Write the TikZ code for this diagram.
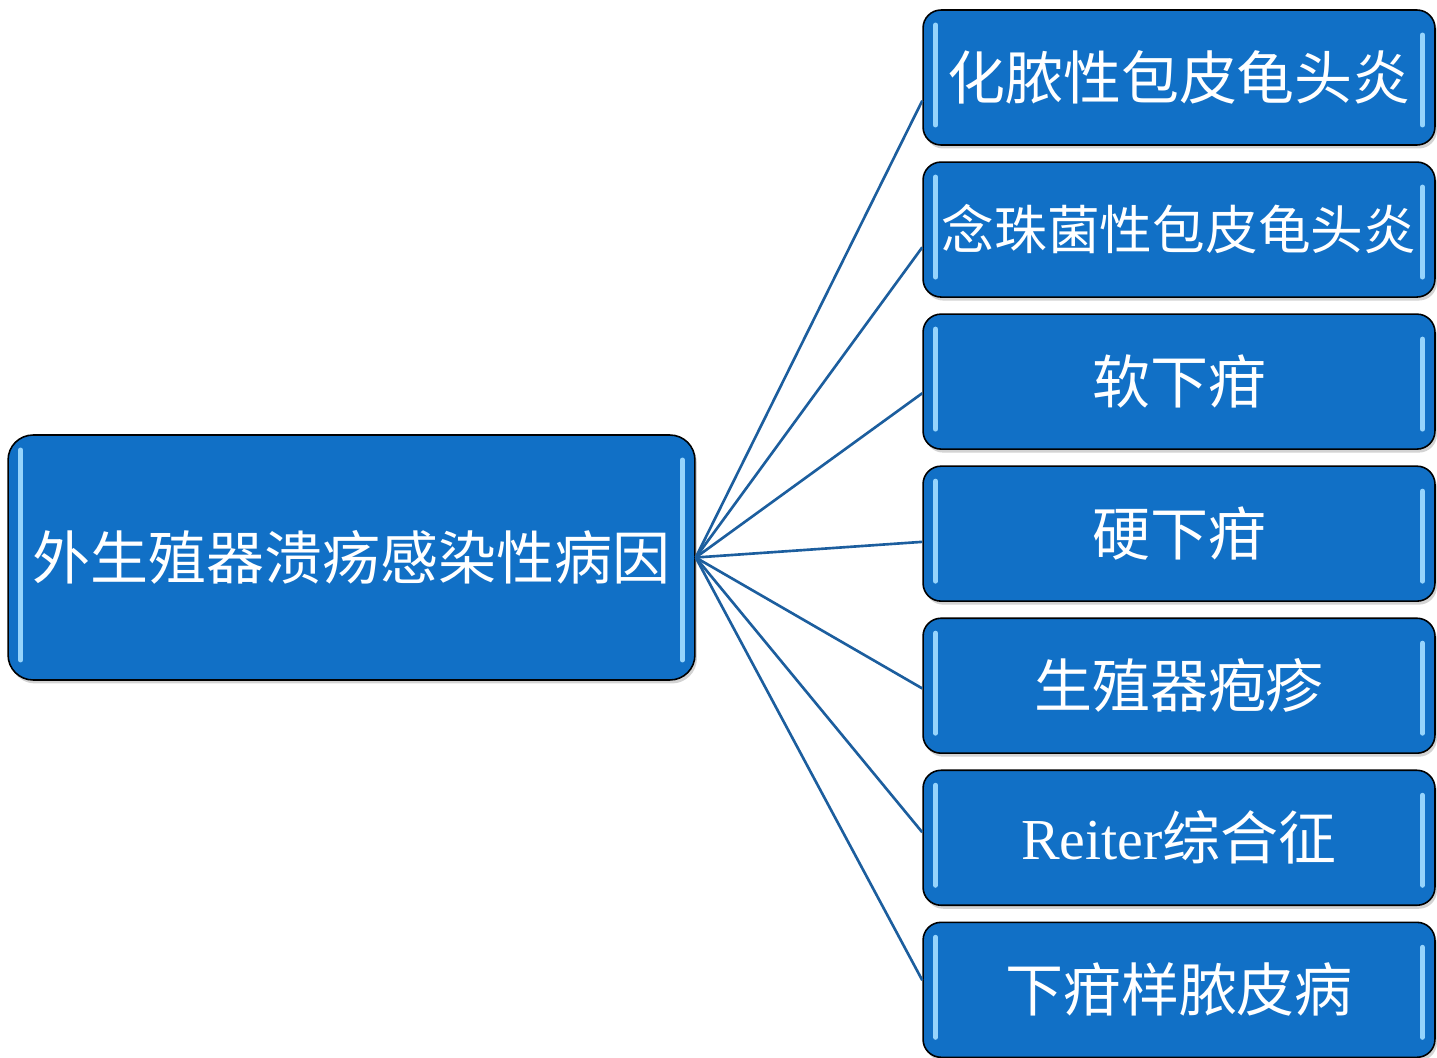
\documentclass[tikz,border=0pt]{standalone}
\usepackage{fontspec}
\setmainfont{Liberation Serif}
\newfontfamily\cjk{Noto Sans CJK SC}
\usetikzlibrary{positioning,calc,shadows}
\definecolor{boxblue}{RGB}{17,112,198}
\definecolor{linkblue}{RGB}{28,94,158}
\definecolor{glint}{RGB}{150,212,252}

\begin{document}
\begin{tikzpicture}[
    x=0.02cm, y=-0.02cm,
    node distance=0.31cm,
    hilite/.style={glint, line width=0.1cm, line cap=round},
    glossy/.style={rectangle, draw=black, line width=0.9pt, fill=boxblue, text=white,
        drop shadow={shadow xshift=0.04cm, shadow yshift=-0.07cm, opacity=0.35},
        path picture={
            \draw[hilite] ([xshift=0.25cm,yshift=-0.3cm]path picture bounding box.north west)
                -- ([xshift=0.25cm,yshift=0.4cm]path picture bounding box.south west);
            \draw[hilite] ([xshift=-0.25cm,yshift=-0.5cm]path picture bounding box.north east)
                -- ([xshift=-0.25cm,yshift=0.4cm]path picture bounding box.south east);
        }},
    root/.style={glossy, rounded corners=0.5cm, minimum width=13.74cm, minimum height=4.9cm,
        font=\cjk\fontsize{33}{36}\selectfont},
    cause/.style={glossy, rounded corners=0.36cm, minimum width=10.24cm, minimum height=2.7cm,
        font=\cjk\fontsize{33}{36}\selectfont},
    link/.style={draw=linkblue, line width=1.5pt}
]
    \useasboundingbox (0,0) rectangle (1437,1058);

    \node[root] (ulcer) at (351.5,557.5) {外生殖器溃疡感染性病因};

    \node[cause] (balan) at (1179,77.5) {化脓性包皮龟头炎};
    \node[cause, below=of balan, font=\cjk\fontsize{30}{33}\selectfont] (candida) {念珠菌性包皮龟头炎};
    \node[cause, below=of candida] (chancroid) {软下疳};
    \node[cause, below=of chancroid] (chancre) {硬下疳};
    \node[cause, below=of chancre] (herpes) {生殖器疱疹};
    \node[cause, below=of herpes] (reiter) {{\rmfamily Reiter}综合征};
    \node[cause, below=of reiter] (pyoderma) {下疳样脓皮病};

    \draw[link] (ulcer.east) -- ($(balan.north west)!0.67!(balan.south west)$);
    \draw[link] (ulcer.east) -- ($(candida.north west)!0.63!(candida.south west)$);
    \draw[link] (ulcer.east) -- ($(chancroid.north west)!0.585!(chancroid.south west)$);
    \draw[link] (ulcer.east) -- ($(chancre.north west)!0.56!(chancre.south west)$);
    \draw[link] (ulcer.east) -- ($(herpes.north west)!0.52!(herpes.south west)$);
    \draw[link] (ulcer.east) -- ($(reiter.north west)!0.46!(reiter.south west)$);
    \draw[link] (ulcer.east) -- ($(pyoderma.north west)!0.43!(pyoderma.south west)$);
\end{tikzpicture}
\end{document}
